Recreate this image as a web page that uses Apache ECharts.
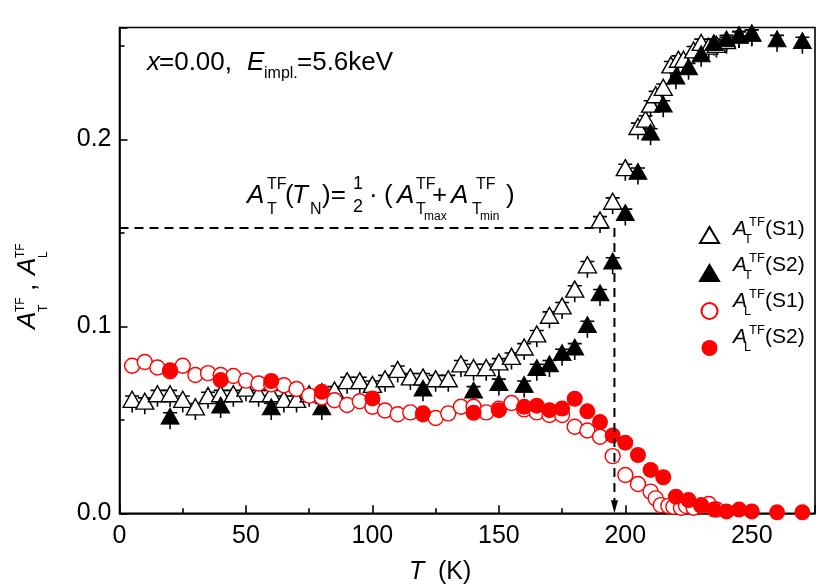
<!DOCTYPE html>
<html><head><meta charset="utf-8">
<script src="https://cdn.jsdelivr.net/npm/echarts@6/dist/echarts.min.js"></script>
<style>html,body{margin:0;padding:0;background:#fff}#c{width:830px;height:587px}</style>
</head><body><div id="c"></div>
<script>
// ---------------- data ----------------
const tempTS1 = [5,10,15,20,25,30,35,40,45,50,55,60,65,70,75,80,85,90,95,100,105,110,115,120,125,130,135,140,145,150,155,160,165,170,175,180,185,190,195,200,205,208,210,212,215,218,221,223,227,230,233,236,240,245,250];
const aTS1 = [0.061,0.060,0.064,0.064,0.061,0.057,0.063,0.064,0.064,0.067,0.064,0.064,0.061,0.061,0.064,0.065,0.066,0.071,0.071,0.069,0.072,0.077,0.073,0.073,0.072,0.072,0.080,0.078,0.078,0.081,0.084,0.089,0.096,0.106,0.111,0.120,0.133,0.157,0.167,0.185,0.207,0.211,0.219,0.224,0.228,0.240,0.243,0.243,0.248,0.252,0.250,0.251,0.253,0.256,0.257];

const tempTS2 = [20,40,60,80,120,140,150,160,165,170,175,180,185,190,195,200,205,210,215,220,225,230,235,240,245,250,260,270];
const aTS2 = [0.052,0.058,0.057,0.057,0.067,0.066,0.070,0.069,0.078,0.080,0.086,0.089,0.101,0.118,0.135,0.161,0.183,0.204,0.219,0.234,0.239,0.246,0.252,0.254,0.256,0.257,0.254,0.253];

const tempLS1 = [5,10,15,20,25,30,35,40,45,50,55,60,65,70,75,80,85,90,95,100,105,110,115,120,125,130,135,140,145,150,155,160,165,170,175,180,185,190,195,200,205,210,212,214,217,219,222,224,227,230,233,236];
const aLS1 = [0.079,0.081,0.078,0.076,0.079,0.074,0.075,0.074,0.0735,0.071,0.0695,0.069,0.0685,0.0665,0.063,0.062,0.0605,0.058,0.060,0.057,0.055,0.053,0.054,0.053,0.051,0.0535,0.057,0.057,0.054,0.056,0.059,0.0556,0.054,0.0526,0.0526,0.0463,0.0443,0.041,0.0306,0.0205,0.0157,0.0116,0.008,0.0044,0.004,0.0035,0.003,0.004,0.003,0.004,0.005,0.002];

const tempLS2 = [20,40,60,80,100,120,140,150,160,165,170,175,180,185,190,195,200,205,210,215,220,225,230,235,240,245,250,260,270];
const aLS2 = [0.0766,0.0713,0.0708,0.065,0.0615,0.0535,0.0538,0.0552,0.057,0.0576,0.0552,0.0561,0.0613,0.0546,0.0488,0.0417,0.0378,0.0312,0.0232,0.0193,0.0089,0.0071,0.0044,0.0021,0.001,0.002,0.001,0.0005,0.0005];

// error bar extents drawn on the A_T points (upper cap / lower stem)
const errUp = 0.0018;
const errDown = 0.007;

// guide lines: A_T(T_N) level and T_N
const levelTN = 0.1527;
const tempTN = 195.7;

// axis ticks
const xTicks = {min: 0, max: 275, interval: 50};
const yTicks = {min: 0, max: 0.26, interval: 0.1};

// ---------------- chart ----------------
const FONT = '"Liberation Sans", Arial, Helvetica, sans-serif';
const zip = (xs, ys) => xs.map((x, i) => [x, ys[i]]);

function t(x, b, s, text, it) {
  return {type: 'text', x: x, y: b - 0.3465 * s, silent: true,
    style: {text: text, fill: '#000', font: (it ? 'italic ' : '') + s + 'px ' + FONT,
      textAlign: 'left', textVerticalAlign: 'middle', align: 'left', verticalAlign: 'middle'}};
}

function errRender(params, api) {
  const x = api.value(0), y = api.value(1);
  const top = api.coord([x, y + errUp]);
  const bot = api.coord([x, y - errDown]);
  const st = {stroke: '#000', lineWidth: 1.6};
  return {type: 'group', children: [
    {type: 'line', shape: {x1: top[0], y1: top[1], x2: bot[0], y2: bot[1]}, style: st},
    {type: 'line', shape: {x1: top[0] - 7, y1: top[1], x2: top[0] + 7, y2: top[1]}, style: st}
  ]};
}

const graphics = [];
// top-left annotation
graphics.push(t(147, 72, 26, 'x', true), t(159, 72, 26, '=0.00,', false),
  t(247, 72, 26, 'E', true), t(264, 79, 16, 'impl.', false), t(297, 72, 26, '=5.6keV', false));
// formula
graphics.push(
  t(247, 205, 26, 'A', true), t(267, 190, 16, 'TF'), t(267, 215, 16, 'T'),
  t(285, 205, 26, '('), t(292, 205, 26, 'T', true), t(310, 215, 16, 'N'),
  t(322, 205, 26, ')='), t(353, 190, 18, '1'), t(353, 213, 18, '2'),
  t(369, 205, 26, '·'), t(384, 205, 26, '('),
  t(397, 205, 26, 'A', true), t(416, 190, 16, 'TF'), t(416, 215, 16, 'T'), t(424, 221, 12, 'max'),
  t(432, 205, 26, '+'),
  t(451, 205, 26, 'A', true), t(476, 190, 16, 'TF'), t(472, 215, 16, 'T'), t(480, 221, 12, 'min'),
  t(506, 205, 26, ')'));
// legend labels
const legRows = [[229, 'T', '(S1)'], [265, 'T', '(S2)'], [301, 'L', '(S1)'], [337, 'L', '(S2)']];
legRows.forEach(r => {
  const cy = r[0];
  graphics.push(t(733, cy + 7, 21, 'A', true), t(749, cy - 2, 13, 'TF'), t(744, cy + 15, 13, r[1]), t(765, cy + 7, 21, r[2]));
});
// x-axis title
graphics.push(t(409, 581, 25, 'T', true), t(431, 581, 25, ' (K)'));
// y-axis title (rotated)
graphics.push({type: 'group', x: 37, y: 329, rotation: Math.PI / 2, children: [
  t(0, 0, 26, 'A', true), t(17, -12, 12, 'TF'), t(17, 11, 12, 'T'),
  t(38, 0, 26, ','),
  t(54, 0, 26, 'A', true), t(71, -12, 12, 'TF'), t(71, 11, 12, 'L')
]});

const option = {
  animation: false,
  backgroundColor: '#fff',
  textStyle: {fontFamily: FONT},
  grid: {left: 119.5, right: 15, top: 27.5, bottom: 73.7, show: true, borderColor: '#000', borderWidth: 1.6, backgroundColor: 'transparent'},
  xAxis: {
    type: 'value', min: xTicks.min, max: xTicks.max, interval: xTicks.interval,
    axisLine: {show: true, onZero: false, lineStyle: {color: '#000', width: 1.6}},
    axisTick: {show: true, inside: true, length: 8, lineStyle: {color: '#000', width: 1.6}},
    minorTick: {show: true, splitNumber: 2, length: 5, lineStyle: {color: '#000', width: 1.6}},
    splitLine: {show: false},
    axisLabel: {color: '#000', fontSize: 25, fontFamily: FONT, margin: 10, showMaxLabel: false}
  },
  yAxis: {
    type: 'value', min: yTicks.min, max: yTicks.max, interval: yTicks.interval,
    axisLine: {show: true, onZero: false, lineStyle: {color: '#000', width: 1.6}},
    axisTick: {show: true, inside: true, length: 8, lineStyle: {color: '#000', width: 1.6}},
    minorTick: {show: true, splitNumber: 2, length: 5, lineStyle: {color: '#000', width: 1.6}},
    splitLine: {show: false},
    axisLabel: {color: '#000', fontSize: 25, fontFamily: FONT, margin: 8, showMaxLabel: false,
      formatter: v => v.toFixed(1)}
  },
  legend: {
    orient: 'vertical', left: 694, top: 221, itemWidth: 19, itemHeight: 16, itemGap: 20,
    selectedMode: false, formatter: () => ' ', textStyle: {fontSize: 10},
    data: ['AT_S1', 'AT_S2', 'AL_S1', 'AL_S2']
  },
  graphic: graphics,
  series: [
    {type: 'custom', name: 'errS1', data: zip(tempTS1, aTS1), renderItem: errRender, z: 2, clip: true, silent: true},
    {type: 'scatter', name: 'AT_S1', data: zip(tempTS1, aTS1), symbol: 'triangle', symbolSize: [18, 16], z: 3, clip: true,
      itemStyle: {color: '#fff', borderColor: '#000', borderWidth: 1.4, opacity: 1}},
    {type: 'custom', name: 'errS2', data: zip(tempTS2, aTS2), renderItem: errRender, z: 2, clip: true, silent: true},
    {type: 'scatter', name: 'AT_S2', data: zip(tempTS2, aTS2), symbol: 'triangle', symbolSize: [18, 16], z: 3, clip: true,
      itemStyle: {color: '#000', borderColor: '#000', borderWidth: 1, opacity: 1}},
    {type: 'scatter', name: 'AL_S1', data: zip(tempLS1, aLS1), symbol: 'circle', symbolSize: 15, z: 4, clip: true,
      itemStyle: {color: '#fff', borderColor: '#ff0000', borderWidth: 1.4, opacity: 1}},
    {type: 'scatter', name: 'AL_S2', data: zip(tempLS2, aLS2), symbol: 'circle', symbolSize: 16, z: 4, clip: true,
      itemStyle: {color: '#ff0000', borderColor: '#ff0000', borderWidth: 0, opacity: 1}},
    {type: 'line', name: 'guide', data: [[0, levelTN], [tempTN, levelTN], [tempTN, 0]], showSymbol: false, z: 5,
      lineStyle: {color: '#000', width: 2, type: [9, 6]}, silent: true,
      markPoint: {silent: true, symbol: 'triangle', symbolSize: [7, 13], symbolRotate: 180, symbolOffset: [0, '-50%'],
        itemStyle: {color: '#000'}, label: {show: false}, data: [{coord: [tempTN, 0]}]}}
  ]
};

const chart = echarts.init(document.getElementById('c'), null, {renderer: 'canvas'});
chart.setOption(option);
</script></body></html>
